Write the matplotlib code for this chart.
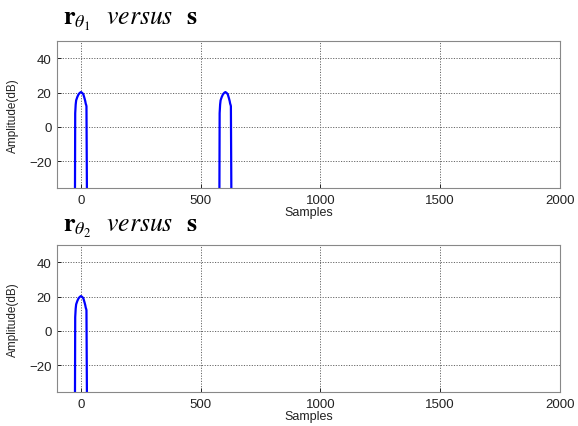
import matplotlib
matplotlib.use("Agg")
import matplotlib.pyplot as plt
import numpy as np

# data
pulse_offsets = [-25, -24, -22, -20, -15, -10, -5, 0, 5, 10, 15, 18, 20, 22, 23, 25]
pulse_db = [-40, 8, 13, 15.5, 17.5, 19, 19.8, 20.3, 19.8, 19, 16.6, 15, 13.5, 12.7, 12, -40]
pulse_centers_1 = [0, 603]
pulse_centers_2 = [0]
xticks = [0, 500, 1000, 1500, 2000]
yticks = [-20, 0, 20, 40]
titles = [r"$\mathbf{r}_{\theta_1}$  $\mathit{versus}$  $\mathbf{s}$",
          r"$\mathbf{r}_{\theta_2}$  $\mathit{versus}$  $\mathbf{s}$"]

plt.rcParams['font.family'] = ['Liberation Sans', 'DejaVu Sans']
plt.rcParams['mathtext.fontset'] = 'stix'

fig = plt.figure(figsize=(5.78, 4.27), dpi=100)
W, H = 578, 427
boxes = [(57, 42, 560, 189), (57, 246, 560, 393)]
title_y = [1.116, 1.095]

for i, (centers, title) in enumerate([(pulse_centers_1, titles[0]), (pulse_centers_2, titles[1])]):
    x0, y0, x1, y1 = boxes[i]
    ax = fig.add_axes([x0 / W, 1 - y1 / H, (x1 - x0) / W, (y1 - y0) / H])
    for c in centers:
        ax.plot(np.array(pulse_offsets) + c, pulse_db, color='#0000ff', lw=1.6)
    ax.set_xlim(-100, 2000)
    ax.set_ylim(-35.5, 50)
    ax.set_xticks(xticks)
    ax.set_yticks(yticks)
    ax.grid(True, linestyle=(0, (1.2, 1.5)), color='#666666', lw=0.7)
    ax.tick_params(direction='in', length=3, labelsize=9.5, colors='#222222', width=0.7, pad=4)
    for s in ax.spines.values():
        s.set_color('#888888')
        s.set_linewidth(0.8)
    ax.set_xlabel('Samples', fontsize=9, labelpad=0, color='#222222')
    ax.set_ylabel('Amplitude(dB)', fontsize=8.5, labelpad=7, color='#222222')
    ax.text(0.012, title_y[i], title, transform=ax.transAxes, fontsize=18.5, ha='left', va='baseline')

fig.savefig('out.png', dpi=100)
